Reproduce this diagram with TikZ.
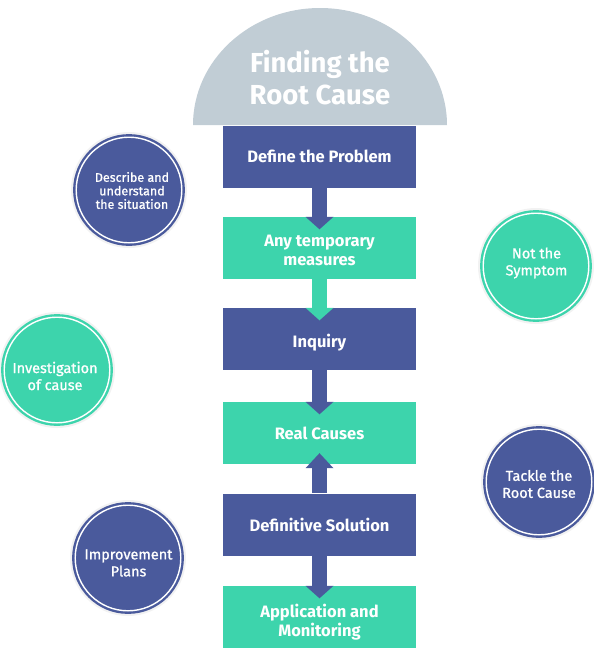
\documentclass[tikz,border=0pt]{standalone}
\usepackage{fontspec}
\setmainfont{Fira Sans}
\newfontfamily\circfont[FakeBold=1]{Fira Sans}
\definecolor{dk}{RGB}{74,90,156}
\definecolor{tl}{RGB}{61,212,172}
\definecolor{gr}{RGB}{193,205,213}
\newcommand\flowdown[3]{%
  \fill[#1] ([xshift=-7.5pt]#2.south) rectangle ([xshift=7.5pt]#3.north);
  \fill[#1] ([xshift=-14pt]#3.north) -- ([xshift=14pt]#3.north) -- ([yshift=-12.5pt]#3.north) -- cycle;}
\begin{document}
\begin{tikzpicture}[x=1pt,y=-1pt,
  box/.style={rectangle, minimum width=193pt, minimum height=62pt, inner sep=0pt, text=white,
    font=\bfseries\fontsize{16.5}{19.5}\selectfont, align=center},
  dkbox/.style={box, fill=dk},
  tlbox/.style={box, fill=tl},
  bub/.style={circle, minimum size=105.6pt, inner sep=0pt, line width=2.4pt, double distance=1.4pt,
    double=white, text=white, align=center, font=\circfont\fontsize{14.5}{17}\selectfont},
  dkbub/.style={bub, fill=dk, draw=dk},
  tlbub/.style={bub, fill=tl, draw=tl},
  txt/.style={text=white, align=center, inner sep=0pt},
  halo/.style={fill=black, opacity=0.05}]
\useasboundingbox (0,0) rectangle (594,649);
% title dome
\fill[gr] (193,125) .. controls (193,60.4) and (249.9,8) .. (320,8)
  .. controls (390.1,8) and (447,60.4) .. (447,125) -- cycle;
\node[txt, font=\bfseries\fontsize{27.5}{32}\selectfont] (title) at (320,78) {Finding the\\Root Cause};
% boxes
\node[dkbox] (dp) at (319.5,156.5) {Define the Problem};
\node[tlbox] (tm) at (319.5,248) {};
\node[txt, font=\bfseries\fontsize{16.5}{19.5}\selectfont] (tmt) at (319.5,250.5) {Any temporary\\measures};
\node[dkbox] (iq) at (319.5,339) {};
\node[txt, font=\bfseries\fontsize{16.5}{19.5}\selectfont] (iqt) at (319.5,342.5) {Inquiry};
\node[tlbox] (rc) at (319.5,433) {Real Causes};
\node[dkbox] (ds) at (319.5,524.5) {Definitive Solution};
\node[tlbox] (am) at (319.5,617) {};
\node[txt, font=\bfseries\fontsize{16.5}{19.5}\selectfont] (amt) at (319.5,622) {Application and\\Monitoring};
% connectors
\flowdown{dk}{dp}{tm}
\flowdown{tl}{tm}{iq}
\flowdown{dk}{iq}{rc}
\fill[dk] ([xshift=-7.5pt]ds.north) rectangle ([xshift=7.5pt,yshift=-4pt]rc.south);
\fill[dk] ([xshift=-14pt,yshift=-4pt]rc.south) -- ([xshift=14pt,yshift=-4pt]rc.south) -- ([yshift=11pt]rc.south) -- cycle;
\flowdown{dk}{ds}{am}
% bubbles
\foreach \p in {(129,190),(536,266),(57,370),(539,482),(128,558)}{\fill[halo] \p circle (58);}
\node[dkbub] (b1) at (129,190) {};
\node[txt, font=\circfont\fontsize{12.5}{13.5}\selectfont] (b1t) at (132,190.5) {Describe and\\understand\\the situation};
\node[tlbub] (b2) at (536,266) {};
\node[txt, font=\circfont\fontsize{14.5}{17}\selectfont] (b2t) at (536.5,263) {Not the\\Symptom};
\node[tlbub] (b3) at (57,370) {};
\node[txt, font=\circfont\fontsize{14.5}{17}\selectfont] (b3t) at (55,376) {Investigation\\of cause};
\node[dkbub] (b4) at (539,482) {};
\node[txt, font=\circfont\fontsize{14.5}{17}\selectfont] (b4t) at (539,484) {Tackle the\\Root Cause};
\node[dkbub] (b5) at (128,558) {};
\node[txt, font=\circfont\fontsize{14.5}{17}\selectfont] (b5t) at (128.5,563) {Improvement\\Plans};
\end{tikzpicture}
\end{document}
